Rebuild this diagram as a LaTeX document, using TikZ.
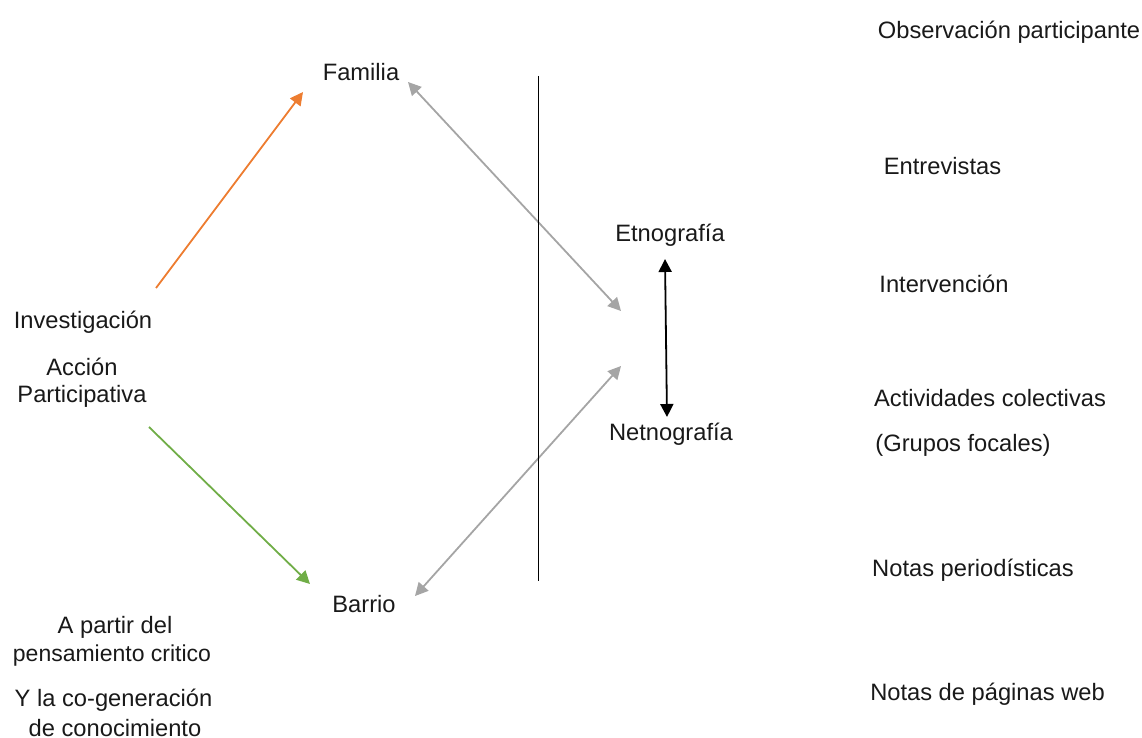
\documentclass[tikz,border=0pt]{standalone}
\usepackage{fontspec}
\setmainfont{Liberation Sans}
\usetikzlibrary{arrows.meta}
\definecolor{orangeA}{HTML}{ED7D31}
\definecolor{greenA}{HTML}{70AD47}
\definecolor{greyA}{HTML}{A5A5A5}
\tikzset{
 lbl/.style={inner sep=0pt,font=\fontsize{23.7pt}{26pt}\selectfont,text=black!90,anchor=center},
 conn/.style={line width=1.8pt,-{Triangle[length=13pt,width=13pt]}},
 bi/.style={line width=1.8pt,{Triangle[length=13pt,width=13pt]}-{Triangle[length=13pt,width=13pt]}},
}
\begin{document}
\begin{tikzpicture}[x=1pt,y=-1pt,every node/.append style={lbl}]
\useasboundingbox (0,0) rectangle (1142,738);
\node (fam) at (361,72) {Familia};
\node (bar) at (364,604) {Barrio};
\node (inv) at (83,322) {Investigación};
\node (acc) at (82,367) {Acción};
\node (par) at (82,396.5) {Participativa};
\node (etn) at (670,235) {Etnografía};
\node (net) at (671,434) {Netnografía};
\node (a1) at (115,627) {A partir del};
\node[font=\fontsize{23pt}{26pt}\selectfont] (a2) at (112,656) {pensamiento critico};
\node (a3) at (113.5,700) {Y la co-generación};
\node (a4) at (115,728) {de conocimiento};
\node (r1) at (1009,32) {Observación participante};
\node (r2) at (942.5,166) {Entrevistas};
\node (r3) at (944,284) {Intervención};
\node (r4) at (990,398) {Actividades colectivas};
\node (r5) at (963,445) {(Grupos focales)};
\node (r6) at (973,570) {Notas periodísticas};
\node (r7) at (987.5,694) {Notas de páginas web};
\coordinate (o1) at (156,288);
\coordinate (o2) at (303,92);
\coordinate (g1) at (149,427);
\coordinate (g2) at (310,584);
\coordinate (h1) at (408,82);
\coordinate (h2) at (621,311);
\coordinate (k1) at (415,596);
\coordinate (k2) at (621,366);
\coordinate (v1) at (538,76);
\coordinate (v2) at (538,581);
\coordinate (e1) at (665,259);
\coordinate (e2) at (667,417);
\draw[conn,orangeA] (o1) -- (o2);
\draw[conn,greenA] (g1) -- (g2);
\draw[bi,greyA] (h1) -- (h2);
\draw[bi,greyA] (k1) -- (k2);
\draw[line width=0.9pt,black] (v1) -- (v2);
\draw[bi,black] (e1) -- (e2);
\end{tikzpicture}
\end{document}
